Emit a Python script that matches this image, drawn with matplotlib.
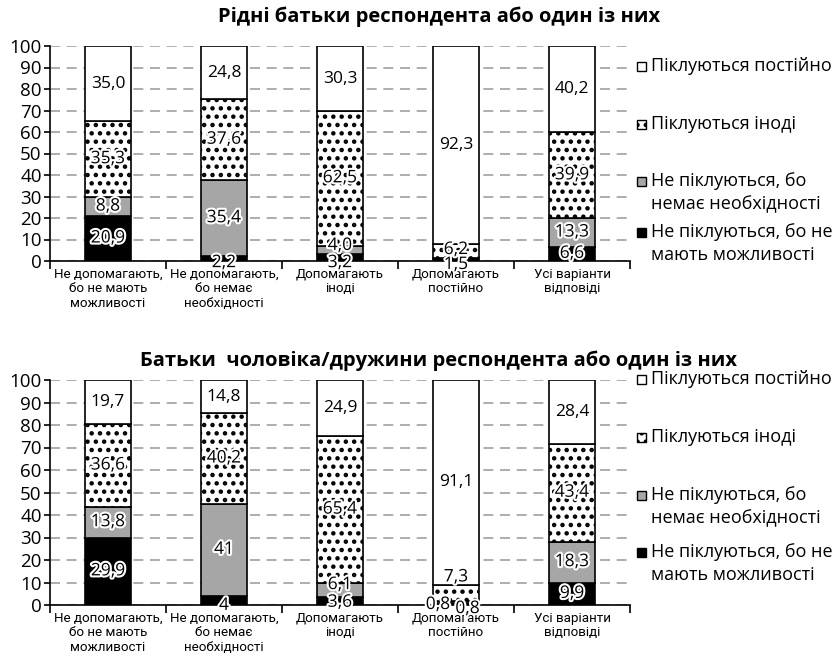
import matplotlib
matplotlib.use("Agg")
import matplotlib.pyplot as plt
import matplotlib.patheffects as pe
from matplotlib.patches import Rectangle
import numpy as np

plt.rcParams['font.family'] = ['Open Sans', 'DejaVu Sans']
plt.rcParams['hatch.linewidth'] = 2.0

categories = ["Не допомагають,\nбо не мають\nможливості",
              "Не допомагають,\nбо немає\nнеобхідності",
              "Допомагають\nіноді",
              "Допомагають\nпостійно",
              "Усі варіанти\nвідповіді"]
series_names = ["Не піклуються, бо не\nмають можливості",
                "Не піклуються, бо\nнемає необхідності",
                "Піклуються іноді",
                "Піклуються постійно"]

titles = ["Рідні батьки респондента або один із них",
          "Батьки  чоловіка/дружини респондента або один із них"]

# own parents
top_no_way = [20.9, 2.2, 3.2, 1.5, 6.6]
top_no_need = [8.8, 35.4, 4.0, 0.0, 13.3]
top_sometimes = [35.3, 37.6, 62.5, 6.2, 39.9]
top_always = [35.0, 24.8, 30.3, 92.3, 40.2]
top_labels = [["20,9", "2,2", "3,2", "1,5", "6,6"],
              ["8,8", "35,4", "4,0", "", "13,3"],
              ["35,3", "37,6", "62,5", "6,2", "39,9"],
              ["35,0", "24,8", "30,3", "92,3", "40,2"]]

# spouse's parents
bot_no_way = [29.9, 4.0, 3.6, 0.8, 9.9]
bot_no_need = [13.8, 41.0, 6.1, 0.8, 18.3]
bot_sometimes = [36.6, 40.2, 65.4, 7.3, 43.4]
bot_always = [19.7, 14.8, 24.9, 91.1, 28.4]
bot_labels = [["29,9", "4", "3,6", "0,8", "9,9"],
              ["13,8", "41", "6,1", "0,8", "18,3"],
              ["36,6", "40,2", "65,4", "7,3", "43,4"],
              ["19,7", "14,8", "24,9", "91,1", "28,4"]]

colors = ["black", "#a6a6a6", "white", "white"]
hatches = [None, None, "..", None]

# label nudges (x, y in data units) for thin segments
top_nudge = {(0, 1): (0, -2.1), (0, 2): (0, -2.6), (1, 2): (0, 1.8),
             (0, 3): (0, -2.6), (2, 3): (0, 0.5)}
bot_nudge = {(0, 1): (0, -2.4), (0, 2): (0, -0.8), (1, 2): (0, 2.2),
             (0, 3): (-0.155, -0.4), (1, 3): (0.10, -3.0), (2, 3): (0, 7.0)}

fig = plt.figure(figsize=(8.38, 6.67), dpi=100)
ax_top = fig.add_axes([50 / 838, 1 - 261 / 667, 580 / 838, 215 / 667])
ax_bot = fig.add_axes([50 / 838, 1 - 605 / 667, 580 / 838, 225 / 667])

halo = [pe.withStroke(linewidth=3, foreground="white")]


def draw(ax, data, labels, nudge, title, title_pad, legend_ys):
    x = np.arange(len(categories))
    bottom = np.zeros(len(categories))
    for i, vals in enumerate(data):
        vals = np.array(vals)
        ax.bar(x, vals, 0.4, bottom=bottom, color=colors[i],
               edgecolor="black", linewidth=1.2, hatch=hatches[i], zorder=3)
        for j in range(len(x)):
            if not labels[i][j]:
                continue
            dx, dy = nudge.get((i, j), (0, 0))
            ax.text(x[j] + dx, bottom[j] + vals[j] / 2 + dy, labels[i][j],
                    ha="center", va="center", fontsize=12.5, zorder=5,
                    path_effects=halo if i < 3 else None)
        bottom = bottom + vals

    ax.set_xlim(-0.5, len(categories) - 0.5)
    ax.set_ylim(0, 100)
    ax.set_yticks(range(0, 101, 10))
    ax.tick_params(axis="y", labelsize=13.5, length=4, width=1.2, pad=2)
    ax.set_xticks(x)
    ax.set_xticklabels(categories, fontsize=9.6, linespacing=1.15,
                       family=["Roboto", "DejaVu Sans"])
    ax.tick_params(axis="x", length=0, pad=5)
    ax.set_xticks(np.arange(-0.5, len(categories)), minor=True)
    ax.tick_params(axis="x", which="minor", length=6, width=1.2,
                   direction="out")
    for s in ["top", "right"]:
        ax.spines[s].set_visible(False)
    ax.spines["left"].set_linewidth(1.2)
    ax.spines["bottom"].set_linewidth(1.2)
    ax.yaxis.grid(True, linestyle=(0, (6, 4)), color="#a0a0a0",
                  linewidth=1.2, zorder=0)
    ax.set_axisbelow(True)
    ax.set_title(title, fontsize=14.5, fontweight="bold", pad=title_pad,
                 x=0.67)

    # legend beside the plot, top entry first; y given in axes pixels from top
    h = ax.bbox.height
    for k, (name, yp) in enumerate(zip(reversed(series_names), legend_ys)):
        i = len(series_names) - 1 - k
        yf = 1 - yp / h
        ax.add_patch(Rectangle((1 + 7 / 580, yf - 4.5 / h), 9 / 580, 9 / h,
                               transform=ax.transAxes, clip_on=False,
                               facecolor=colors[i], edgecolor="black",
                               linewidth=1.0, hatch=hatches[i], zorder=4))
        ax.text(1 + 21 / 580, yf + 9 / h, name, transform=ax.transAxes,
                ha="left", va="top", fontsize=13, linespacing=1.35)


top_data = [top_no_way, top_no_need, top_sometimes, top_always]
bot_data = [bot_no_way, bot_no_need, bot_sometimes, bot_always]

draw(ax_top, top_data, top_labels, top_nudge, titles[0], 17,
     [20, 78, 135, 186])
draw(ax_bot, bot_data, bot_labels, bot_nudge, titles[1], 10,
     [-1, 57, 115, 172])

fig.savefig("out.png", dpi=100)
